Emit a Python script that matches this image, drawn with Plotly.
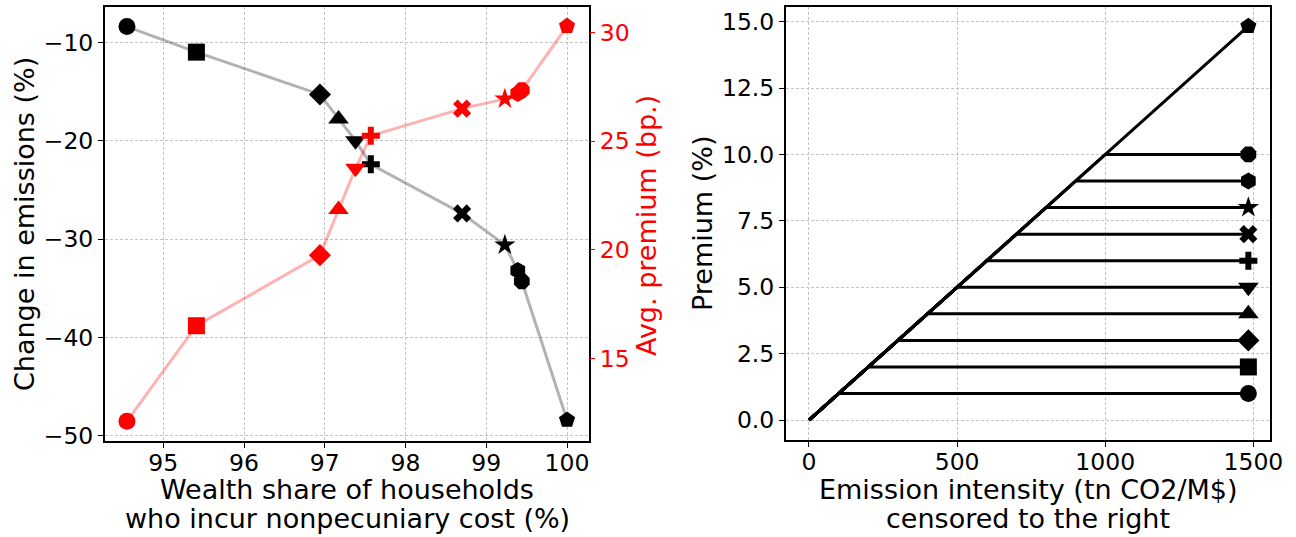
import plotly.graph_objects as go

# ---------------- data ----------------
symbols = ["circle", "square", "diamond", "triangle-up", "triangle-down",
           "cross", "x", "star", "hexagon", "octagon", "pentagon"]
marker_sizes = [17, 17, 17, 18, 18, 15, 16, 16, 17, 17, 17]

wealth_share = [94.55, 95.41, 96.94, 97.17, 97.38, 97.57, 98.70, 99.23, 99.39, 99.44, 100.0]
emission_change = [-8.4, -11.0, -15.3, -17.8, -20.0, -22.4, -27.4, -30.6, -33.2, -34.3, -48.4]
avg_premium = [12.1, 16.5, 19.75, 21.85, 23.75, 25.25, 26.5, 26.95, 27.2, 27.35, 30.3]

premium_levels = [1, 2, 3, 4, 5, 6, 7, 8, 9, 10, 15]
intensity_max = 1483
intensity_per_premium = 100  # tn CO2/M$ per % premium along the diagonal

left_xticks = [95, 96, 97, 98, 99, 100]
left_yticks = [-10, -20, -30, -40, -50]
right_red_ticks = [15, 20, 25, 30]
right_xticks = [0, 500, 1000, 1500]
right_yticks = [0.0, 2.5, 5.0, 7.5, 10.0, 12.5, 15.0]

# ---------------- layout geometry ----------------
W, H = 1296, 537
FONT = "DejaVu Sans"
TICK_FS = 23.5
LABEL_FS = 27


def px_x(p):
    return p / W


def px_y(p):
    return 1 - p / H


fig = go.Figure()

# left panel: emissions (black, left axis)
fig.add_trace(go.Scatter(
    x=wealth_share, y=emission_change, mode="lines",
    line=dict(color="rgba(0,0,0,0.3)", width=3),
    xaxis="x", yaxis="y", showlegend=False, hoverinfo="skip"))
fig.add_trace(go.Scatter(
    x=wealth_share, y=emission_change, mode="markers",
    marker=dict(symbol=symbols, size=marker_sizes, color="black", opacity=1,
                line=dict(width=0)),
    xaxis="x", yaxis="y", showlegend=False))

# left panel: premium (red, right axis)
fig.add_trace(go.Scatter(
    x=wealth_share, y=avg_premium, mode="lines",
    line=dict(color="rgba(255,0,0,0.3)", width=3),
    xaxis="x", yaxis="y2", showlegend=False, hoverinfo="skip"))
fig.add_trace(go.Scatter(
    x=wealth_share, y=avg_premium, mode="markers",
    marker=dict(symbol=symbols, size=marker_sizes, color="red", opacity=1,
                line=dict(width=0)),
    xaxis="x", yaxis="y2", showlegend=False))

# right panel: censored premium lines
for p, sym, ms in zip(premium_levels, symbols, marker_sizes):
    kink = min(p * intensity_per_premium, intensity_max)
    xs = [0, kink, intensity_max]
    ys = [0, kink / intensity_per_premium, kink / intensity_per_premium]
    fig.add_trace(go.Scatter(
        x=xs, y=ys, mode="lines", line=dict(color="black", width=3),
        xaxis="x3", yaxis="y3", showlegend=False, hoverinfo="skip"))
    fig.add_trace(go.Scatter(
        x=[xs[-1]], y=[ys[-1]], mode="markers",
        marker=dict(symbol=sym, size=ms, color="black", opacity=1, line=dict(width=0)),
        xaxis="x3", yaxis="y3", showlegend=False))

grid = dict(showgrid=True, gridcolor="#c4c4c4", gridwidth=0.8, griddash="3px,2px")
frame = dict(showline=True, linecolor="black", linewidth=2, mirror=True, zeroline=False)
ticks = dict(ticks="outside", ticklen=5, tickwidth=1.2, tickcolor="black",
             tickfont=dict(family=FONT, size=TICK_FS, color="black"), automargin=False)

fig.update_layout(
    width=W, height=H,
    margin=dict(l=0, r=0, t=0, b=0),
    paper_bgcolor="white", plot_bgcolor="white",
    font=dict(family=FONT, color="black"),
    xaxis=dict(domain=[px_x(105), px_x(589)], range=[94.278, 100.272],
               tickvals=left_xticks, anchor="y", ticklabelstandoff=-5,
               **grid, **frame, **ticks),
    yaxis=dict(domain=[px_y(441), px_y(7)], range=[-50.54, -6.41],
               tickvals=left_yticks, anchor="x", **grid, **frame, **ticks),
    yaxis2=dict(overlaying="y", side="right", anchor="x", range=[11.19, 31.18],
                tickvals=right_red_ticks, showgrid=False, zeroline=False,
                ticks="outside", ticklen=5, tickwidth=1.2, tickcolor="red",
                tickfont=dict(family=FONT, size=TICK_FS, color="red"), automargin=False),
    xaxis3=dict(domain=[px_x(786), px_x(1270)], range=[-77.6, 1556],
                tickvals=right_xticks, anchor="y3", ticklabelstandoff=-5,
                **grid, **frame, **ticks),
    yaxis3=dict(domain=[px_y(440), px_y(7)], range=[-0.75, 15.55],
                tickvals=right_yticks, tickformat=".1f", anchor="x3", **grid, **frame, **ticks),
)

title_font = dict(family=FONT, size=LABEL_FS, color="black")
annotations = [
    dict(text="Change in emissions (%)", x=px_x(24), y=px_y(224), textangle=-90,
         font=title_font),
    dict(text="Avg. premium (bp.)", x=px_x(646), y=px_y(226), textangle=-90,
         font=dict(family=FONT, size=LABEL_FS, color="red")),
    dict(text="Premium (%)", x=px_x(702), y=px_y(224), textangle=-90, font=title_font),
    dict(text="Wealth share of households", x=px_x(347), y=px_y(489), font=title_font),
    dict(text="who incur nonpecuniary cost (%)", x=px_x(347), y=px_y(518), font=title_font),
    dict(text="Emission intensity (tn CO2/M$)", x=px_x(1028), y=px_y(489), font=title_font),
    dict(text="censored to the right", x=px_x(1028), y=px_y(518), font=title_font),
]
for a in annotations:
    a.update(xref="paper", yref="paper", showarrow=False, xanchor="center", yanchor="middle")
fig.update_layout(annotations=annotations)

fig.write_html("out.html")
